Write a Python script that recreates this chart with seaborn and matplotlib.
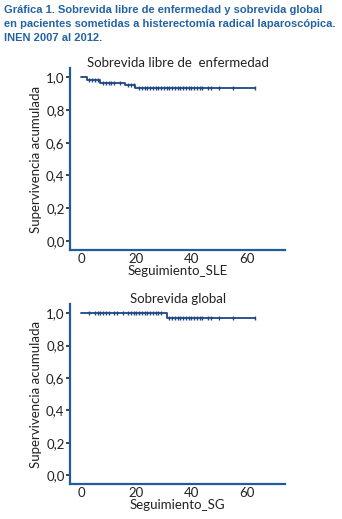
import numpy as np
import pandas as pd
import seaborn as sns
import matplotlib.pyplot as plt

# Kaplan-Meier step values
sle_times = [0, 2, 7, 16, 19.5, 63]
sle_surv = [1.0, 0.98, 0.966, 0.95, 0.933, 0.933]
sle_cens = [3, 4, 5, 6, 8, 9, 10, 11, 12, 14, 17, 18, 19,
            21, 22, 23, 24, 25, 26, 27, 28, 29, 30, 31, 32, 33, 34, 35,
            36, 37, 38, 39, 40, 41, 42, 43, 44, 46, 47, 50, 55, 63]

sg_times = [0, 31, 63]
sg_surv = [1.0, 0.967, 0.967]
sg_cens = [3, 5, 6, 7, 8, 9, 10, 12, 13, 15, 17, 18, 19, 20, 21, 22,
           23, 24, 25, 26, 27, 28, 29,
           32, 33, 34, 35, 36, 37, 38, 39, 40, 41, 42, 43, 44, 46, 47, 50, 55, 63]

y_ticks = [0.0, 0.2, 0.4, 0.6, 0.8, 1.0]
y_ticklabels = ['0,0', '0,2', '0,4', '0,6', '0,8', '1,0']
x_ticks = [0, 20, 40, 60]

title = ('Gráfica 1. Sobrevida libre de enfermedad y sobrevida global\n'
         'en pacientes sometidas a histerectomía radical laparoscópica.\n'
         'INEN 2007 al 2012.')

sns.set_style('white')
plt.rcParams['font.family'] = ['Lato', 'DejaVu Sans']

axis_col = '#1f5c9e'
line_col = '#1d4683'
text_col = '#222222'


def step_value(times, surv, t):
  idx = np.searchsorted(times, t, side='right') - 1
  return surv[idx]


def km_panel(ax, times, surv, cens, sub, xlab):
  df = pd.DataFrame({'t': times, 's': surv})
  sns.lineplot(data=df, x='t', y='s', ax=ax, drawstyle='steps-post',
               color=line_col, lw=1.3)
  cdf = pd.DataFrame({'t': cens, 's': [step_value(times, surv, c) for c in cens]})
  sns.scatterplot(data=cdf, x='t', y='s', ax=ax, marker='|', s=10,
                  color=line_col, linewidth=1.0)
  ax.set_xlim(-4, 74)
  ax.set_ylim(-0.055, 1.055)
  ax.set_yticks(y_ticks)
  ax.set_yticklabels(y_ticklabels)
  ax.set_xticks(x_ticks)
  ax.set_title(sub, fontsize=9.5, color=text_col, pad=1)
  ax.set_ylabel('Supervivencia acumulada', fontsize=9.5, color=text_col, labelpad=3)
  ax.set_xlabel(xlab, fontsize=9.5, color=text_col, labelpad=0)
  for side in ['top', 'right']:
    ax.spines[side].set_visible(False)
  for side in ['left', 'bottom']:
    ax.spines[side].set_color(axis_col)
    ax.spines[side].set_linewidth(1.6)
  ax.tick_params(axis='y', length=3, width=1.2, color=text_col,
                 labelsize=9.5, labelcolor=text_col, pad=1, left=True)
  ax.tick_params(axis='x', length=0, labelsize=9.5, labelcolor=text_col, pad=2)


fig = plt.figure(figsize=(3.42, 5.19), dpi=100)
ax1 = fig.add_axes([0.205, 0.518, 0.629, 0.351])
ax2 = fig.add_axes([0.205, 0.067, 0.629, 0.347])

km_panel(ax1, sle_times, sle_surv, sle_cens, 'Sobrevida libre de  enfermedad', 'Seguimiento_SLE')
km_panel(ax2, sg_times, sg_surv, sg_cens, 'Sobrevida global', 'Seguimiento_SG')

fig.text(0.012, 0.991, title, ha='left', va='top', fontsize=8.0,
         fontweight='bold', color='#2463a6', linespacing=1.5,
         family=['Liberation Sans', 'DejaVu Sans'])

fig.savefig('out.png', dpi=100)
